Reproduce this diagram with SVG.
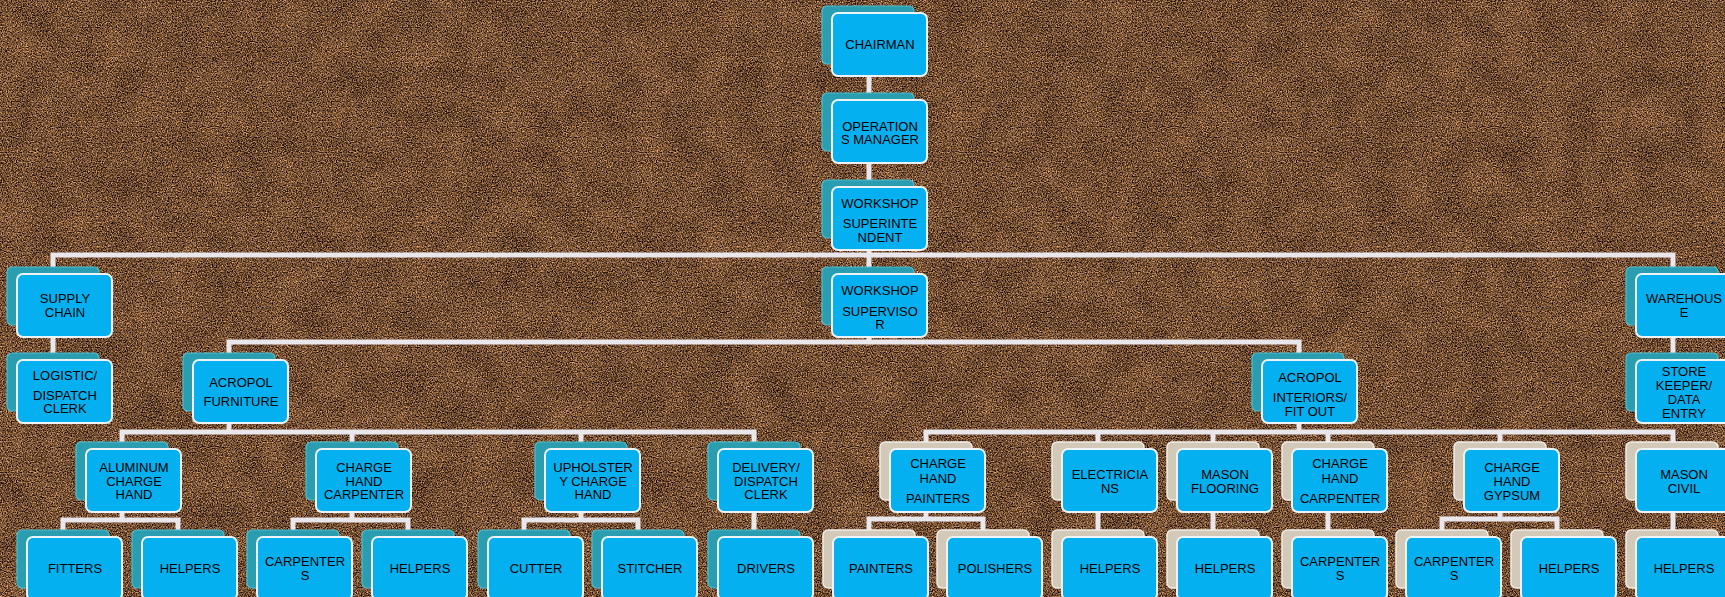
<svg xmlns="http://www.w3.org/2000/svg" width="1725" height="597" viewBox="0 0 1725 597">
<defs>
<filter id="cork" filterUnits="userSpaceOnUse" x="0" y="0" width="1725" height="597" color-interpolation-filters="sRGB">
<feTurbulence type="fractalNoise" baseFrequency="0.8" numOctaves="3" seed="7" result="f0"/>
<feColorMatrix in="f0" type="matrix" values="1 0 0 0 0  1 0 0 0 0  1 0 0 0 0  0 0 0 0 1" result="fine"/>
<feTurbulence type="fractalNoise" baseFrequency="0.03" numOctaves="2" seed="3" result="c0"/>
<feColorMatrix in="c0" type="matrix" values="1 0 0 0 0  1 0 0 0 0  1 0 0 0 0  0 0 0 0 1" result="coarse"/>
<feComposite in="fine" in2="coarse" operator="arithmetic" k1="0" k2="1" k3="0.12" k4="-0.06" result="mix"/>
<feColorMatrix in="mix" type="matrix" values="1.5 0 0 0 -0.3  1.15 0 0 0 -0.265  0.8 0 0 0 -0.2  0 0 0 0 1"/>
</filter>
<style>
.box{fill:#05b0f0;stroke:#eef3f6;stroke-width:2}
.bt{fill:#2a9db1;stroke:#52bccb;stroke-width:1.2}
.bc{fill:#d3c9b9;stroke:#f1ede6;stroke-width:1.5}
.lbl{font-family:"Liberation Sans",Arial,sans-serif;font-size:13px;fill:#000;text-anchor:middle}
.con{fill:none;stroke:#e9e6ec;stroke-width:5}
</style>
</defs>
<rect width="1725" height="597" fill="#734c30"/>
<rect width="1725" height="597" filter="url(#cork)"/>

<g id="connectors" class="con">
<path d="M869 75V100M869 163V187M869 250V274"/>
<path d="M53 274V255H1673V274"/>
<path d="M53 337V360M1673 337V360"/>
<path d="M869 337V342"/>
<path d="M229 360V342H1299V360"/>
<path d="M229 423V432M122 449V432H754V449M352 432V449M581 432V449"/>
<path d="M1299 423V432M926 449V432H1673V449M1098 432V449M1213 432V449M1328 432V449M1500 432V449"/>
<path d="M122 512V520M63 537V520H178V537"/>
<path d="M352 512V520M293 537V520H408V537"/>
<path d="M581 512V520M524 537V520H638V537"/>
<path d="M754 512V537"/>
<path d="M926 512V519M869 537V519H983V537"/>
<path d="M1098 512V537M1213 512V537M1328 512V537M1673 512V537"/>
<path d="M1500 512V519M1442 537V519H1557V537"/>
</g>

<g id="chairman" transform="translate(832,13)"><rect class="bt" x="-10" y="-7" width="92" height="58" rx="5"/><rect class="box" width="95" height="63" rx="6"/><text class="lbl" x="48" y="36">CHAIRMAN</text></g>
<g id="operations-manager" transform="translate(832,100)"><rect class="bt" x="-10" y="-7" width="92" height="58" rx="5"/><rect class="box" width="95" height="63" rx="6"/><text class="lbl" x="48"><tspan x="48" y="30.5">OPERATION</tspan><tspan x="48" y="43.5">S MANAGER</tspan></text></g>
<g id="workshop-superintendent" transform="translate(832,187)"><rect class="bt" x="-10" y="-7" width="92" height="58" rx="5"/><rect class="box" width="95" height="63" rx="6"/><text class="lbl"><tspan x="48" y="21">WORKSHOP</tspan><tspan x="48" y="41">SUPERINTE</tspan><tspan x="48" y="55">NDENT</tspan></text></g>

<g id="supply-chain" transform="translate(17,274)"><rect class="bt" x="-10" y="-7" width="92" height="58" rx="5"/><rect class="box" width="95" height="63" rx="6"/><text class="lbl"><tspan x="48" y="29">SUPPLY</tspan><tspan x="48" y="43">CHAIN</tspan></text></g>
<g id="workshop-supervisor" transform="translate(832,274)"><rect class="bt" x="-10" y="-7" width="92" height="58" rx="5"/><rect class="box" width="95" height="63" rx="6"/><text class="lbl"><tspan x="48" y="21">WORKSHOP</tspan><tspan x="48" y="41.5">SUPERVISO</tspan><tspan x="48" y="55">R</tspan></text></g>
<g id="warehouse" transform="translate(1636,274)"><rect class="bt" x="-10" y="-7" width="92" height="58" rx="5"/><rect class="box" width="95" height="63" rx="6"/><text class="lbl"><tspan x="48" y="29">WAREHOUS</tspan><tspan x="48" y="43">E</tspan></text></g>

<g id="logistic-dispatch-clerk" transform="translate(17,360)"><rect class="bt" x="-10" y="-7" width="92" height="58" rx="5"/><rect class="box" width="95" height="63" rx="6"/><text class="lbl"><tspan x="48" y="20">LOGISTIC/</tspan><tspan x="48" y="40">DISPATCH</tspan><tspan x="48" y="53">CLERK</tspan></text></g>
<g id="acropol-furniture" transform="translate(193,360)"><rect class="bt" x="-10" y="-7" width="92" height="58" rx="5"/><rect class="box" width="95" height="63" rx="6"/><text class="lbl"><tspan x="48" y="26.5">ACROPOL</tspan><tspan x="48" y="45.5">FURNITURE</tspan></text></g>
<g id="acropol-interiors" transform="translate(1262,360)"><rect class="bt" x="-10" y="-7" width="92" height="58" rx="5"/><rect class="box" width="95" height="63" rx="6"/><text class="lbl"><tspan x="48" y="21.5">ACROPOL</tspan><tspan x="48" y="42">INTERIORS/</tspan><tspan x="48" y="55.5">FIT OUT</tspan></text></g>
<g id="store-keeper" transform="translate(1636,360)"><rect class="bt" x="-10" y="-7" width="92" height="58" rx="5"/><rect class="box" width="95" height="63" rx="6"/><text class="lbl"><tspan x="48" y="15.5">STORE</tspan><tspan x="48" y="29.5">KEEPER/</tspan><tspan x="48" y="43.5">DATA</tspan><tspan x="48" y="57.5">ENTRY</tspan></text></g>

<g id="aluminum-charge-hand" transform="translate(86,449)"><rect class="bt" x="-10" y="-7" width="92" height="58" rx="5"/><rect class="box" width="95" height="63" rx="6"/><text class="lbl"><tspan x="48" y="22.5">ALUMINUM</tspan><tspan x="48" y="36.5">CHARGE</tspan><tspan x="48" y="50">HAND</tspan></text></g>
<g id="charge-hand-carpenter-furniture" transform="translate(316,449)"><rect class="bt" x="-10" y="-7" width="92" height="58" rx="5"/><rect class="box" width="95" height="63" rx="6"/><text class="lbl"><tspan x="48" y="22.5">CHARGE</tspan><tspan x="48" y="36.5">HAND</tspan><tspan x="48" y="50">CARPENTER</tspan></text></g>
<g id="upholstery-charge-hand" transform="translate(545,449)"><rect class="bt" x="-10" y="-7" width="92" height="58" rx="5"/><rect class="box" width="95" height="63" rx="6"/><text class="lbl"><tspan x="48" y="22.5">UPHOLSTER</tspan><tspan x="48" y="36.5">Y CHARGE</tspan><tspan x="48" y="50">HAND</tspan></text></g>
<g id="delivery-dispatch-clerk" transform="translate(718,449)"><rect class="bt" x="-10" y="-7" width="92" height="58" rx="5"/><rect class="box" width="95" height="63" rx="6"/><text class="lbl"><tspan x="48" y="22.5">DELIVERY/</tspan><tspan x="48" y="36.5">DISPATCH</tspan><tspan x="48" y="50">CLERK</tspan></text></g>
<g id="charge-hand-painters" transform="translate(890,449)"><rect class="bc" x="-10" y="-7" width="92" height="58" rx="5"/><rect class="box" width="95" height="63" rx="6"/><text class="lbl"><tspan x="48" y="19">CHARGE</tspan><tspan x="48" y="33.5">HAND</tspan><tspan x="48" y="53.5">PAINTERS</tspan></text></g>
<g id="electricians" transform="translate(1062,449)"><rect class="bc" x="-10" y="-7" width="92" height="58" rx="5"/><rect class="box" width="95" height="63" rx="6"/><text class="lbl"><tspan x="48" y="29.5">ELECTRICIA</tspan><tspan x="48" y="43.5">NS</tspan></text></g>
<g id="mason-flooring" transform="translate(1177,449)"><rect class="bc" x="-10" y="-7" width="92" height="58" rx="5"/><rect class="box" width="95" height="63" rx="6"/><text class="lbl"><tspan x="48" y="29.5">MASON</tspan><tspan x="48" y="43.5">FLOORING</tspan></text></g>
<g id="charge-hand-carpenter-interiors" transform="translate(1292,449)"><rect class="bc" x="-10" y="-7" width="92" height="58" rx="5"/><rect class="box" width="95" height="63" rx="6"/><text class="lbl"><tspan x="48" y="19">CHARGE</tspan><tspan x="48" y="33.5">HAND</tspan><tspan x="48" y="53.5">CARPENTER</tspan></text></g>
<g id="charge-hand-gypsum" transform="translate(1464,449)"><rect class="bc" x="-10" y="-7" width="92" height="58" rx="5"/><rect class="box" width="95" height="63" rx="6"/><text class="lbl"><tspan x="48" y="23">CHARGE</tspan><tspan x="48" y="36.5">HAND</tspan><tspan x="48" y="50.5">GYPSUM</tspan></text></g>
<g id="mason-civil" transform="translate(1636,449)"><rect class="bc" x="-10" y="-7" width="92" height="58" rx="5"/><rect class="box" width="95" height="63" rx="6"/><text class="lbl"><tspan x="48" y="29.5">MASON</tspan><tspan x="48" y="43.5">CIVIL</tspan></text></g>

<g id="fitters" transform="translate(27,537)"><rect class="bt" x="-10" y="-7" width="92" height="58" rx="5"/><rect class="box" width="95" height="63" rx="6"/><text class="lbl" x="48" y="35.5">FITTERS</text></g>
<g id="helpers-aluminum" transform="translate(142,537)"><rect class="bt" x="-10" y="-7" width="92" height="58" rx="5"/><rect class="box" width="95" height="63" rx="6"/><text class="lbl" x="48" y="35.5">HELPERS</text></g>
<g id="carpenters-furniture" transform="translate(257,537)"><rect class="bt" x="-10" y="-7" width="92" height="58" rx="5"/><rect class="box" width="95" height="63" rx="6"/><text class="lbl"><tspan x="48" y="28.5">CARPENTER</tspan><tspan x="48" y="42.5">S</tspan></text></g>
<g id="helpers-carpenter" transform="translate(372,537)"><rect class="bt" x="-10" y="-7" width="92" height="58" rx="5"/><rect class="box" width="95" height="63" rx="6"/><text class="lbl" x="48" y="35.5">HELPERS</text></g>
<g id="cutter" transform="translate(488,537)"><rect class="bt" x="-10" y="-7" width="92" height="58" rx="5"/><rect class="box" width="95" height="63" rx="6"/><text class="lbl" x="48" y="35.5">CUTTER</text></g>
<g id="stitcher" transform="translate(602,537)"><rect class="bt" x="-10" y="-7" width="92" height="58" rx="5"/><rect class="box" width="95" height="63" rx="6"/><text class="lbl" x="48" y="35.5">STITCHER</text></g>
<g id="drivers" transform="translate(718,537)"><rect class="bt" x="-10" y="-7" width="92" height="58" rx="5"/><rect class="box" width="95" height="63" rx="6"/><text class="lbl" x="48" y="35.5">DRIVERS</text></g>
<g id="painters" transform="translate(833,537)"><rect class="bc" x="-10" y="-7" width="92" height="58" rx="5"/><rect class="box" width="95" height="63" rx="6"/><text class="lbl" x="48" y="35.5">PAINTERS</text></g>
<g id="polishers" transform="translate(947,537)"><rect class="bc" x="-10" y="-7" width="92" height="58" rx="5"/><rect class="box" width="95" height="63" rx="6"/><text class="lbl" x="48" y="35.5">POLISHERS</text></g>
<g id="helpers-electricians" transform="translate(1062,537)"><rect class="bc" x="-10" y="-7" width="92" height="58" rx="5"/><rect class="box" width="95" height="63" rx="6"/><text class="lbl" x="48" y="35.5">HELPERS</text></g>
<g id="helpers-mason-flooring" transform="translate(1177,537)"><rect class="bc" x="-10" y="-7" width="92" height="58" rx="5"/><rect class="box" width="95" height="63" rx="6"/><text class="lbl" x="48" y="35.5">HELPERS</text></g>
<g id="carpenters-interiors" transform="translate(1292,537)"><rect class="bc" x="-10" y="-7" width="92" height="58" rx="5"/><rect class="box" width="95" height="63" rx="6"/><text class="lbl"><tspan x="48" y="28.5">CARPENTER</tspan><tspan x="48" y="42.5">S</tspan></text></g>
<g id="carpenters-gypsum" transform="translate(1406,537)"><rect class="bc" x="-10" y="-7" width="92" height="58" rx="5"/><rect class="box" width="95" height="63" rx="6"/><text class="lbl"><tspan x="48" y="28.5">CARPENTER</tspan><tspan x="48" y="42.5">S</tspan></text></g>
<g id="helpers-gypsum" transform="translate(1521,537)"><rect class="bc" x="-10" y="-7" width="92" height="58" rx="5"/><rect class="box" width="95" height="63" rx="6"/><text class="lbl" x="48" y="35.5">HELPERS</text></g>
<g id="helpers-mason-civil" transform="translate(1636,537)"><rect class="bc" x="-10" y="-7" width="92" height="58" rx="5"/><rect class="box" width="95" height="63" rx="6"/><text class="lbl" x="48" y="35.5">HELPERS</text></g>
</svg>
